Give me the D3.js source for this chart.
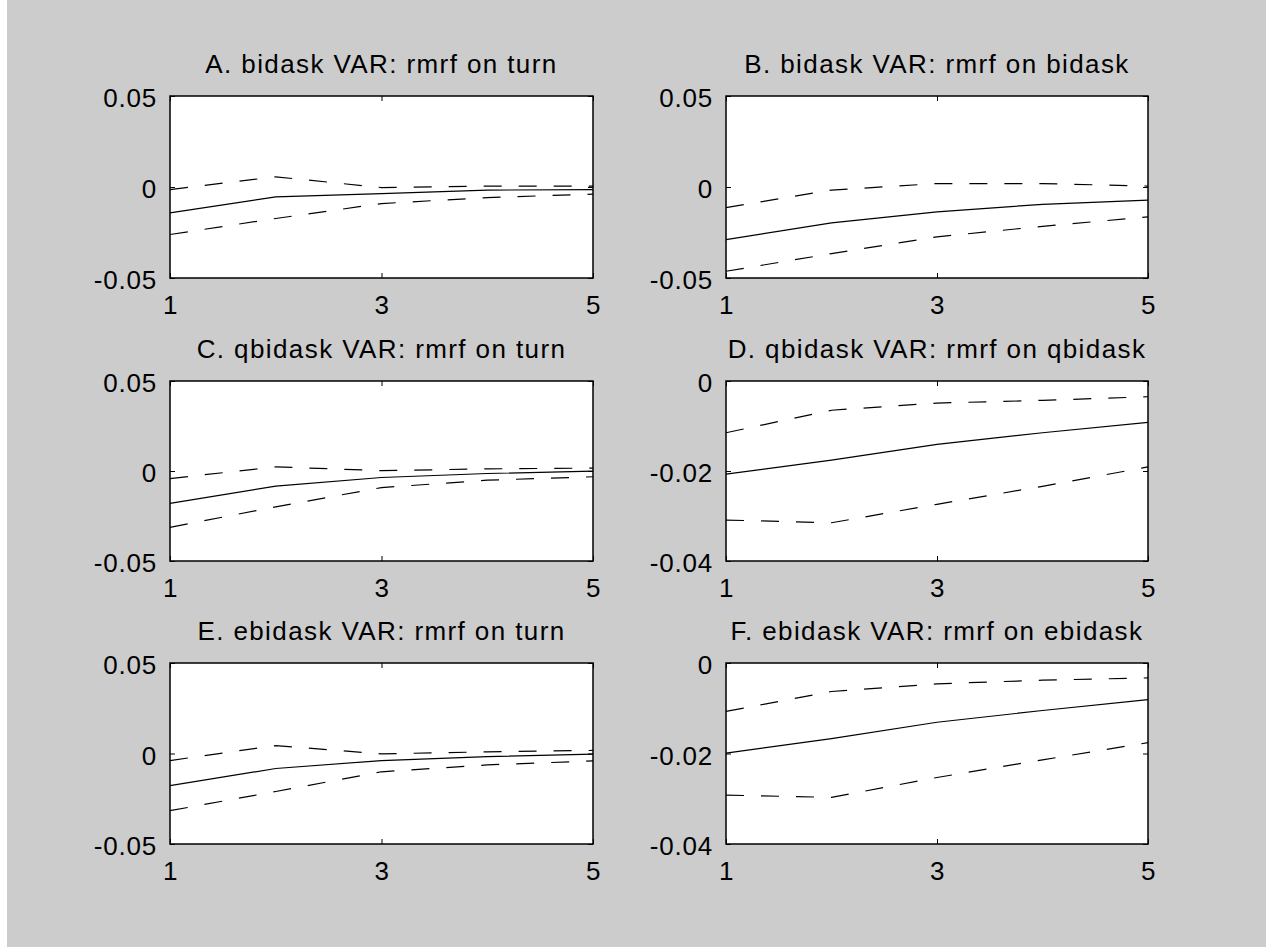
<!DOCTYPE html>
<html>
<head>
  <meta charset="utf-8">
  <style>
  body { margin: 0; background: #fff; }
  text { font-family: "Liberation Sans", Arial, sans-serif; fill: #000; }
  </style>
  <script src="https://d3js.org/d3.v7.min.js"></script>
</head>
<body>
<script>
// horizon steps
var steps = [1, 2, 3, 4, 5];
var xTicks = [1, 3, 5];

var titles = [
  "A. bidask VAR: rmrf on turn",
  "B. bidask VAR: rmrf on bidask",
  "C. qbidask VAR: rmrf on turn",
  "D. qbidask VAR: rmrf on qbidask",
  "E. ebidask VAR: rmrf on turn",
  "F. ebidask VAR: rmrf on ebidask"
];

var yTicksWide = [-0.05, 0, 0.05];
var yTicksNarrow = [-0.04, -0.02, 0];

// impulse responses (solid) and bands (dashed)
var respA = [-0.0142, -0.0054, -0.0036, -0.0017, -0.0014];
var upA   = [-0.0014, 0.0056, -0.0003, 0.0005, 0.0005];
var loA   = [-0.0261, -0.0173, -0.0091, -0.0058, -0.0039];

var respB = [-0.0289, -0.0197, -0.0137, -0.0095, -0.0072];
var upB   = [-0.0113, -0.0017, 0.0019, 0.0019, 0.0005];
var loB   = [-0.0463, -0.0366, -0.0274, -0.0216, -0.0164];

var respC = [-0.0180, -0.0084, -0.0036, -0.0014, -0.0001];
var upC   = [-0.0042, 0.0023, 0.0002, 0.0012, 0.0016];
var loC   = [-0.0313, -0.0199, -0.0092, -0.0051, -0.0032];

var respD = [-0.0207, -0.0176, -0.0141, -0.0115, -0.0092];
var upD   = [-0.0115, -0.0065, -0.0049, -0.0043, -0.0035];
var loD   = [-0.0309, -0.0315, -0.0274, -0.0234, -0.0191];

var respE = [-0.0177, -0.0083, -0.0039, -0.0017, -0.0004];
var upE   = [-0.0039, 0.0044, -0.0002, 0.0009, 0.0017];
var loE   = [-0.0316, -0.0210, -0.0101, -0.0063, -0.0041];

var respF = [-0.0199, -0.0167, -0.0131, -0.0105, -0.0081];
var upF   = [-0.0107, -0.0063, -0.0046, -0.0038, -0.0033];
var loF   = [-0.0292, -0.0297, -0.0253, -0.0214, -0.0176];

var panels = [
  {resp: respA, up: upA, lo: loA, ticks: yTicksWide},
  {resp: respB, up: upB, lo: loB, ticks: yTicksWide},
  {resp: respC, up: upC, lo: loC, ticks: yTicksWide},
  {resp: respD, up: upD, lo: loD, ticks: yTicksNarrow},
  {resp: respE, up: upE, lo: loE, ticks: yTicksWide},
  {resp: respF, up: upF, lo: loF, ticks: yTicksNarrow}
];

var canvasWidth = 1266, canvasHeight = 947;
var colLeft = [170, 726], colRight = [593, 1148];
var rowTop = [96, 381, 663], rowBottom = [278, 561, 844];
var tickLen = 5;

// plain hyphen minus, like the original figure
function yLabel(d) {
  if (d === 0) return "0";
  return (d < 0 ? "-" : "") + Math.abs(d).toFixed(2);
}

var svg = d3.select("body").append("svg")
    .attr("width", canvasWidth)
    .attr("height", canvasHeight);

svg.append("rect")
    .attr("x", 7).attr("y", 0)
    .attr("width", canvasWidth - 7).attr("height", canvasHeight)
    .attr("fill", "#cccccc");

panels.forEach(function(p, i) {
  var c = i % 2, r = Math.floor(i / 2);
  var x0 = colLeft[c], x1 = colRight[c], y0 = rowTop[r], y1 = rowBottom[r];

  var x = d3.scaleLinear().domain([1, 5]).range([x0, x1]);
  var y = d3.scaleLinear().domain(d3.extent(p.ticks)).range([y1, y0]);

  var g = svg.append("g");

  g.append("rect")
      .attr("x", x0).attr("y", y0)
      .attr("width", x1 - x0).attr("height", y1 - y0)
      .attr("fill", "#fff");

  var line = d3.line()
      .x(function(d, j) { return x(steps[j]); })
      .y(function(d) { return y(d); });

  g.append("path").datum(p.up)
      .attr("d", line).attr("fill", "none")
      .attr("stroke", "#000").attr("stroke-width", 1.2)
      .attr("stroke-dasharray", "18,17");
  g.append("path").datum(p.lo)
      .attr("d", line).attr("fill", "none")
      .attr("stroke", "#000").attr("stroke-width", 1.2)
      .attr("stroke-dasharray", "18,17");
  g.append("path").datum(p.resp)
      .attr("d", line).attr("fill", "none")
      .attr("stroke", "#000").attr("stroke-width", 1.2);

  // inward ticks on all four sides, like the matlab box
  g.append("g").attr("transform", "translate(0," + y1 + ")")
      .call(d3.axisBottom(x).tickValues(xTicks).tickSize(-tickLen).tickPadding(18).tickFormat(d3.format("d")))
      .call(function(a) {
        a.select(".domain").remove();
        a.selectAll("text").attr("font-size", 26).attr("letter-spacing", 0.8)
          .attr("dy", "0.71em").attr("fill", "#000")
          .style("font-family", "'Liberation Sans', Arial, sans-serif");
      });
  g.append("g").attr("transform", "translate(0," + y0 + ")")
      .call(d3.axisTop(x).tickValues(xTicks).tickSize(-tickLen).tickFormat(""))
      .call(function(a) { a.select(".domain").remove(); });

  g.append("g").attr("transform", "translate(" + x0 + ",0)")
      .call(d3.axisLeft(y).tickValues(p.ticks).tickSize(-tickLen).tickPadding(13).tickFormat(yLabel))
      .call(function(a) {
        a.select(".domain").remove();
        a.selectAll("text").attr("font-size", 26).attr("letter-spacing", 0.8)
          .attr("dy", "0.42em").attr("fill", "#000")
          .style("font-family", "'Liberation Sans', Arial, sans-serif");
      });
  g.append("g").attr("transform", "translate(" + x1 + ",0)")
      .call(d3.axisRight(y).tickValues(p.ticks).tickSize(-tickLen).tickFormat(""))
      .call(function(a) { a.select(".domain").remove(); });

  g.selectAll(".tick line").attr("stroke", "#000").attr("stroke-width", 1);

  g.append("rect")
      .attr("x", x0).attr("y", y0)
      .attr("width", x1 - x0).attr("height", y1 - y0)
      .attr("fill", "none").attr("stroke", "#000").attr("stroke-width", 1.5);

  g.append("text")
      .attr("x", (x0 + x1) / 2)
      .attr("y", y0 - 23)
      .attr("text-anchor", "middle")
      .attr("font-size", 26)
      .attr("letter-spacing", 1.4)
      .text(titles[i]);
});
</script>
</body>
</html>
